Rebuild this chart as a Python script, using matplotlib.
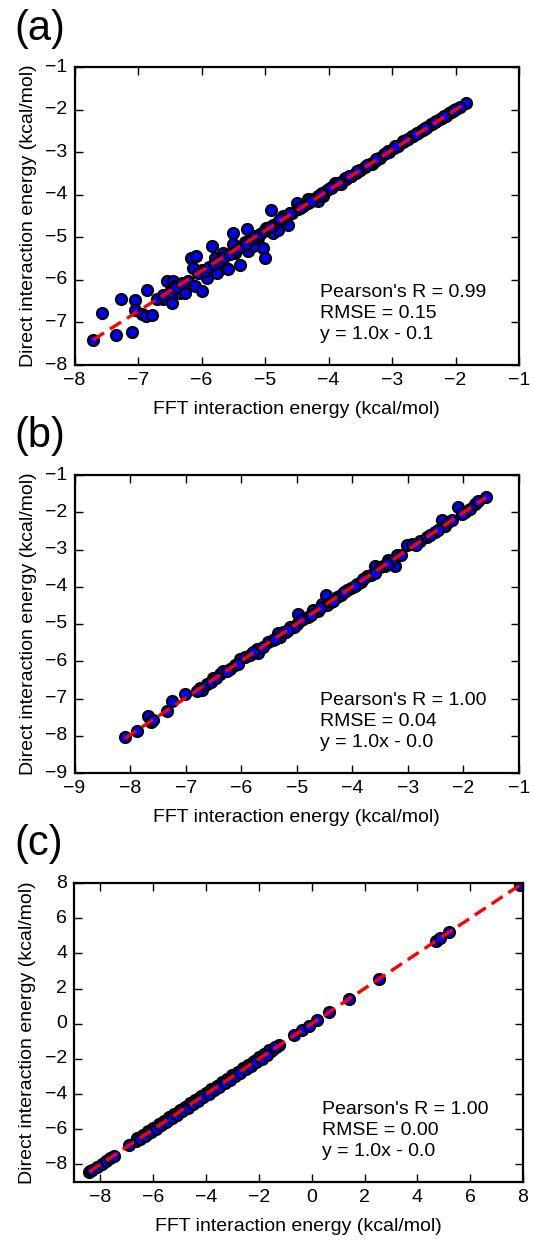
import matplotlib
matplotlib.use("Agg")
import matplotlib.pyplot as plt
import numpy as np

plt.style.use("classic")
plt.rcParams['font.family'] = ['Liberation Sans', 'DejaVu Sans']
plt.rcParams['axes.unicode_minus'] = True

# ---------------- data: panel (a) ----------------
fft_a = [-7.71, -7.56, -7.35, -7.26, -7.10, -7.05, -7.05, -6.94, -6.86, -6.87, -6.78,
         -6.61, -6.54, -6.47, -6.45, -6.42, -6.34, -6.26, -6.21, -6.16, -6.13, -6.08,
         -6.11, -6.00, -6.00, -5.92, -5.83, -5.79, -5.76, -5.66, -5.61, -5.58, -5.51,
         -5.50, -5.48, -5.40, -5.32, -5.28, -5.27, -5.19, -5.11, -5.03, -5.00, -4.98,
         -4.90, -4.87, -4.79, -4.71, -4.64, -4.61, -4.50, -4.45, -4.32, -4.27, -4.16,
         -4.08, -3.98, -3.90, -3.80, -3.74, -3.64, -3.51, -3.32, -3.19, -3.06, -2.96,
         -2.82, -2.69, -2.59, -2.51, -2.46, -2.38, -2.25, -2.17, -2.11, -2.04, -1.84,
         -6.70, -6.60, -6.50, -6.40, -6.30, -6.05, -5.95, -5.88, -5.80, -5.72, -5.65,
         -5.55, -5.45, -5.38, -5.30, -5.22, -5.15, -5.08, -5.02,
         -4.95, -4.87, -4.80, -4.72, -4.65, -4.57, -4.48, -4.40, -4.33, -4.25, -4.17,
         -4.10, -4.02, -3.95, -3.87, -3.80, -3.72, -3.65, -3.57, -3.50, -3.42, -3.35,
         -3.27, -3.20, -3.12, -3.05, -2.97, -2.90, -2.82, -2.75, -2.67, -2.60, -2.52,
         -2.45, -2.37, -2.30, -2.22, -2.15, -2.07, -2.00, -1.93,
         -4.92, -4.76, -4.60, -4.44, -4.28, -4.12, -3.96, -3.84, -3.68, -3.55, -3.40,
         -3.25, -3.10, -2.94, -2.78, -2.62, -2.48, -2.33, -2.18, -2.03]
direct_a = [-7.41, -6.77, -7.30, -6.44, -7.23, -6.48, -6.70, -6.80, -6.24, -6.86, -6.83,
            -6.45, -6.02, -6.55, -6.02, -6.14, -6.30, -6.30, -6.02, -5.48, -5.73, -5.45,
            -6.14, -6.27, -5.77, -5.96, -5.20, -5.48, -5.84, -5.37, -5.72, -5.74, -4.91,
            -5.16, -5.37, -5.65, -5.10, -4.80, -5.33, -5.21, -5.02, -5.26, -5.48, -4.78,
            -4.36, -4.91, -4.84, -4.51, -4.70, -4.43, -4.20, -4.31, -4.11, -4.15, -4.15,
            -4.03, -3.84, -3.72, -3.76, -3.60, -3.56, -3.41, -3.27, -3.13, -2.98, -2.86,
            -2.74, -2.61, -2.55, -2.47, -2.43, -2.35, -2.23, -2.16, -2.09, -2.04, -1.84,
            -6.45, -6.35, -6.28, -6.17, -6.08, -5.85, -5.80, -5.70, -5.62, -5.55, -5.47,
            -5.40, -5.30, -5.22, -5.15, -5.05, -4.98, -4.92, -4.85,
            -4.78, -4.70, -4.64, -4.56, -4.49, -4.42, -4.33, -4.26, -4.19, -4.11, -4.04,
            -3.97, -3.90, -3.83, -3.76, -3.70, -3.62, -3.56, -3.48, -3.41, -3.34, -3.27,
            -3.20, -3.13, -3.05, -2.99, -2.91, -2.85, -2.77, -2.70, -2.63, -2.56, -2.49,
            -2.42, -2.34, -2.28, -2.20, -2.14, -2.06, -1.99, -1.93,
            -4.76, -4.58, -4.42, -4.29, -4.15, -3.98, -3.84, -3.73, -3.57, -3.44, -3.31,
            -3.17, -3.02, -2.86, -2.71, -2.57, -2.43, -2.29, -2.15, -2.01]
fit_a = (0.947, -0.11)
stats_a = "Pearson's R = 0.99\nRMSE = 0.15\ny = 1.0x - 0.1"

# ---------------- data: panel (b) ----------------
fft_b = [-8.09, -7.88, -7.67, -7.63, -7.58, -7.34, -7.24, -7.02, -6.75, -6.71, -6.62,
         -6.50, -6.38, -6.32, -6.20, -6.11, -6.02, -5.93, -5.84, -5.72, -5.69, -5.51,
         -5.33, -5.30, -5.12, -5.00, -4.97, -4.88, -4.70, -4.55, -4.47, -4.46, -4.28,
         -4.10, -3.92, -3.74, -3.59, -3.50, -3.35, -3.23, -3.20, -3.02, -2.93, -2.78,
         -2.66, -2.51, -2.39, -2.33, -2.27, -2.09, -1.97, -1.88, -1.79, -1.73, -1.59,
         -6.80, -6.55, -6.45, -6.25, -6.05, -5.78, -5.60, -5.42, -5.20, -5.05, -4.80,
         -4.62, -4.38, -4.20, -4.02, -3.85, -3.66, -3.42, -3.30, -3.12, -2.85, -2.60,
         -2.45, -2.20, -2.03,
         -5.40, -5.25, -5.15, -4.92, -4.75, -4.58, -4.35, -4.15, -3.95, -3.80, -3.60,
         -3.45, -3.38]
direct_b = [-8.04, -7.87, -7.46, -7.63, -7.58, -7.33, -7.06, -6.87, -6.73, -6.78, -6.60,
            -6.46, -6.35, -6.26, -6.20, -6.11, -5.93, -5.88, -5.84, -5.66, -5.78, -5.48,
            -5.24, -5.35, -5.08, -4.99, -4.72, -4.86, -4.63, -4.46, -4.21, -4.50, -4.28,
            -4.10, -3.92, -3.70, -3.43, -3.47, -3.29, -3.45, -3.16, -2.89, -2.85, -2.76,
            -2.67, -2.54, -2.21, -2.36, -2.27, -1.85, -2.00, -1.91, -1.78, -1.71, -1.58,
            -6.80, -6.57, -6.44, -6.27, -6.07, -5.76, -5.62, -5.44, -5.22, -5.07, -4.80,
            -4.64, -4.40, -4.21, -4.04, -3.87, -3.68, -3.44, -3.32, -3.14, -2.87, -2.62,
            -2.47, -2.21, -2.05,
            -5.40, -5.22, -5.17, -4.90, -4.77, -4.56, -4.37, -4.13, -3.97, -3.78, -3.62,
            -3.43, -3.40]
fit_b = (0.995, -0.02)
stats_b = "Pearson's R = 1.00\nRMSE = 0.04\ny = 1.0x - 0.0"

# ---------------- data: panel (c) ----------------
fft_c = [-8.42, -8.38, -8.30, -8.12, -7.95, -7.79, -7.62, -7.50, -6.91,
         -6.65, -6.55, -6.45, -6.35, -6.25, -6.15, -6.05, -5.95, -5.85, -5.75, -5.65,
         -5.55, -5.45, -5.35, -5.25, -5.15, -5.05, -4.95, -4.85, -4.75, -4.65, -4.55,
         -4.45, -4.35, -4.25, -4.15, -4.05, -3.95, -3.85, -3.75, -3.65, -3.55, -3.45,
         -3.35, -3.25, -3.15, -3.05, -2.95, -2.85, -2.75, -2.65, -2.55, -2.45, -2.35,
         -2.25, -2.15, -2.05, -1.95, -1.85, -1.75, -1.65, -1.55, -1.45, -1.35, -1.22,
         -0.66, -0.37, -0.11, 0.19, 0.67, 1.43, 2.56, 4.71, 4.87, 5.19, 7.90,
         -6.60, -6.40, -6.20, -6.00, -5.80, -5.60, -5.40, -5.20, -5.00, -4.80, -4.60,
         -4.40, -4.20, -4.00, -3.80, -3.60, -3.40, -3.20, -3.00, -2.80, -2.60, -2.40,
         -2.20, -2.00, -1.80, -1.60, -1.40,
         -6.50, -6.30, -6.10, -5.90, -5.70, -5.50, -5.30, -5.10, -4.90, -4.70, -4.50,
         -4.30, -4.10, -3.90, -3.70, -3.50, -3.30, -3.10, -2.90, -2.70, -2.50, -2.30,
         -2.10, -1.90, -1.70]
direct_c = [-8.42, -8.38, -8.30, -8.12, -7.95, -7.79, -7.62, -7.50, -6.91,
            -6.65, -6.55, -6.45, -6.35, -6.25, -6.15, -6.05, -5.95, -5.85, -5.75, -5.65,
            -5.55, -5.45, -5.35, -5.25, -5.15, -5.05, -4.95, -4.85, -4.75, -4.65, -4.55,
            -4.45, -4.35, -4.25, -4.15, -4.05, -3.95, -3.85, -3.75, -3.65, -3.55, -3.45,
            -3.35, -3.25, -3.15, -3.05, -2.95, -2.85, -2.75, -2.65, -2.55, -2.45, -2.35,
            -2.25, -2.15, -2.05, -1.95, -1.85, -1.75, -1.65, -1.55, -1.45, -1.35, -1.22,
            -0.66, -0.37, -0.11, 0.19, 0.67, 1.43, 2.56, 4.71, 4.87, 5.19, 7.90,
            -6.52, -6.32, -6.12, -5.92, -5.72, -5.52, -5.32, -5.12, -4.92, -4.72, -4.52,
            -4.32, -4.12, -3.92, -3.72, -3.52, -3.32, -3.12, -2.92, -2.72, -2.52, -2.32,
            -2.12, -1.92, -1.72, -1.52, -1.32,
            -6.58, -6.38, -6.18, -5.98, -5.78, -5.58, -5.38, -5.18, -4.98, -4.78, -4.58,
            -4.38, -4.18, -3.98, -3.78, -3.58, -3.38, -3.18, -2.98, -2.78, -2.58, -2.38,
            -2.18, -1.98, -1.78]
fit_c = (1.0, 0.0)
stats_c = "Pearson's R = 1.00\nRMSE = 0.00\ny = 1.0x - 0.0"

panel_labels = ["(a)", "(b)", "(c)"]
xlabel = "FFT interaction energy (kcal/mol)"
ylabel = "Direct interaction energy (kcal/mol)"
limits = [((-8, -1), (-8, -1), 1), ((-9, -1), (-9, -1), 1), ((-9, 8), (-9, 8), 2)]

W, H = 534, 1245
fig = plt.figure(figsize=(W / 100, H / 100), dpi=100)
fig.patch.set_facecolor("white")

# axes boxes in pixels: left, top, right, bottom
boxes = [(74.5, 67, 519, 365), (74.5, 475, 519, 773), (74, 883, 523, 1182)]
label_pos = [9, 416, 824]

panels = [(fft_a, direct_a, fit_a, stats_a),
          (fft_b, direct_b, fit_b, stats_b),
          (fft_c, direct_c, fit_c, stats_c)]

for i, ((x, y, fit, stats), (l, t, r, b)) in enumerate(zip(panels, boxes)):
    ax = fig.add_axes([l / W, 1 - b / H, (r - l) / W, (b - t) / H])
    ax.scatter(x, y, s=62, c="#0000ff", edgecolors="black", linewidths=1.6, zorder=2)
    xs = np.array([min(x), max(x)])
    ax.plot(xs, fit[0] * xs + fit[1], color="red", lw=2.4,
            linestyle=(0, (9.5, 5.0)), zorder=3)
    (x0, x1), (y0, y1), step = limits[i]
    ax.set_xlim(x0, x1)
    ax.set_ylim(y0, y1)
    if step == 2:
        ax.set_xticks(np.arange(-8, 9, 2))
        ax.set_yticks(np.arange(-8, 9, 2))
    else:
        ax.set_xticks(np.arange(x0, x1 + 1, 1))
        ax.set_yticks(np.arange(y0, y1 + 1, 1))
    for sp in ax.spines.values():
        sp.set_linewidth(1.6)
    ax.tick_params(direction="in", length=6, width=1, labelsize=14, pad=5,
                   top=True, right=True)
    ax.set_xlabel(xlabel, fontsize=14, labelpad=9)
    ax.set_ylabel(ylabel, fontsize=14, labelpad=6)
    ax.text(0.553, 0.075, stats, transform=ax.transAxes, fontsize=14,
            ha="left", va="bottom", linespacing=1.3)
    fig.text(14 / W, 1 - label_pos[i] / H, panel_labels[i], fontsize=30,
             ha="left", va="top")

fig.savefig("out.png", dpi=100, facecolor="white")
